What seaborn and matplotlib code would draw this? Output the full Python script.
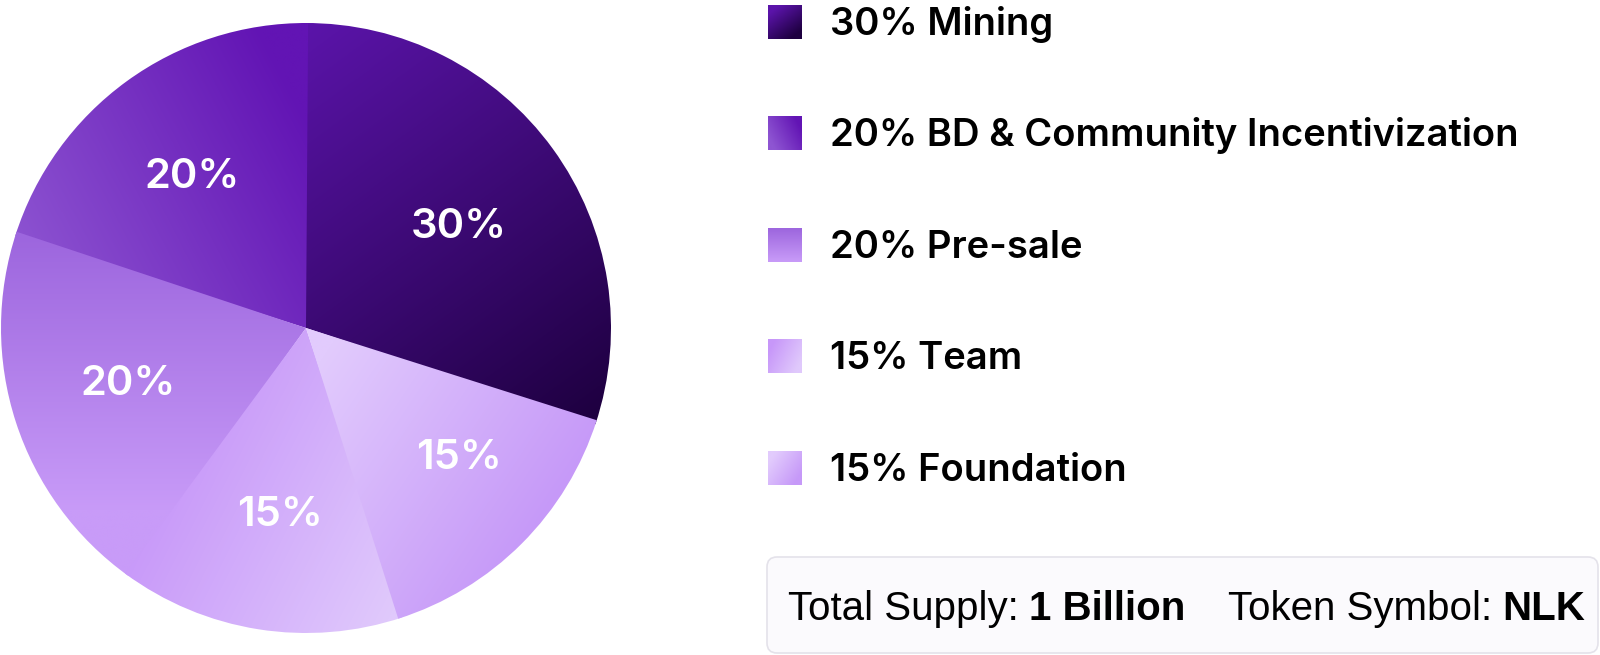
import numpy as np
import matplotlib
matplotlib.use("Agg")
import matplotlib.pyplot as plt
import seaborn as sns
from matplotlib.patches import FancyBboxPatch, Wedge

# token allocation
labels = ["Mining", "BD & Community Incentivization", "Pre-sale", "Team", "Foundation"]
shares = [30, 20, 20, 15, 15]
supply_label = "Total Supply:"
supply_value = "1 Billion"
symbol_label = "Token Symbol:"
symbol_value = "NLK"

# gradient per slice: colours and direction (pie coords)
grad_start = ["#5b14aa", "#6214b4", "#9d66de", "#c797f9", "#e2cbfd"]
grad_end = ["#1e0040", "#8e55d2", "#c89bf8", "#e0c9fc", "#c699f8"]
grad_from = [(0, 1), (0.0, 0.7), (0, 0.3), (-0.5, -0.5), (0.05, -0.1)]
grad_to = [(0.95, -0.3), (-0.95, 0.2), (0, -0.6), (0.3, -0.9), (0.8, -0.6)]
# small label nudges (pixels, x right / y up)
label_nudge = [(0, -10), (-3, -2), (2, 2), (4, 0), (19, 4)]

sns.set_theme(style="white")
plt.rcParams["font.family"] = ["Inter", "DejaVu Sans"]
plt.rcParams["text.color"] = "black"

W, H = 1600, 655
fig = plt.figure(figsize=(W / 100, H / 100), dpi=100)
fig.patch.set_facecolor("white")

# overlay axes in pixel coords for legend / info box
ax2 = fig.add_axes([0, 0, 1, 1])
ax2.axis("off")

ax = fig.add_axes([1 / W, 22 / H, 610 / W, 610 / H])


def grad_img(cmap, p0, p1, X, Y):
    d = np.array(p1, dtype=float) - np.array(p0, dtype=float)
    t = ((X - p0[0]) * d[0] + (Y - p0[1]) * d[1]) / (d @ d)
    return cmap(np.clip(t, 0, 1))


cmaps = [sns.blend_palette([a, b], as_cmap=True) for a, b in zip(grad_start, grad_end)]

wedges, _, autotexts = ax.pie(
    shares, startangle=-18, counterclock=True, radius=1,
    autopct="%.0f%%", pctdistance=0.62,
    wedgeprops=dict(linewidth=0),
    textprops=dict(color="white", fontsize=30, fontweight="semibold"),
)
ax.set_xlim(-1, 1)
ax.set_ylim(-1, 1)
ax.axis("off")

xs = np.linspace(-1, 1, 600)
X, Y = np.meshgrid(xs, xs)
for w, cm, p0, p1 in zip(wedges, cmaps, grad_from, grad_to):
    w.set_facecolor("none")
    clip = Wedge((0, 0), 1.0, w.theta1 - 0.4, w.theta2 + 0.4, transform=ax.transData)
    im = ax.imshow(grad_img(cm, p0, p1, X, Y), extent=[-1, 1, -1, 1], origin="lower",
                   interpolation="bilinear", zorder=1.5)
    im.set_clip_path(clip)
px = 2 / 610  # data units per pixel
for t, (nx, ny) in zip(autotexts, label_nudge):
    x, y = t.get_position()
    t.set_position((x + nx * px, y + ny * px))
    t.set_zorder(4)

# legend rows
sq = 34
row0, step = 22, 111.4
sx, sy = np.meshgrid(np.linspace(-1, 1, 40), np.linspace(1, -1, 40))
for i, (lab, val) in enumerate(zip(labels, shares)):
    cy = row0 + i * step
    p0, p1 = np.array(grad_from[i]), np.array(grad_to[i])
    d = (p1 - p0) / np.linalg.norm(p1 - p0)
    img = grad_img(cmaps[i], -d, d, sx, sy)
    ax2.imshow(img, extent=[768, 768 + sq, cy + sq / 2, cy - sq / 2], interpolation="bilinear")
    ax2.text(830, cy + 13, f"{val}% {lab}", fontsize=27.5, fontweight="semibold",
             color="black", ha="left", va="baseline")

# info box
box = FancyBboxPatch((767, 557), 831, 96, boxstyle="round,pad=0,rounding_size=10",
                     facecolor="#fbfafd", edgecolor="#e4e2ea", linewidth=1.2)
ax2.add_patch(box)
fam = ["Liberation Sans", "DejaVu Sans"]
fs = 29
t1 = ax2.text(788, 620, supply_label, fontsize=fs, family=fam, color="black", va="baseline")
t2 = ax2.annotate(supply_value, xy=(1, 0), xycoords=t1, xytext=(10, 0), textcoords="offset pixels",
                  fontsize=fs, family=fam, fontweight="bold", color="black", va="bottom", ha="left")
t3 = ax2.annotate(symbol_label, xy=(1, 0), xycoords=t2, xytext=(43, 0), textcoords="offset pixels",
                  fontsize=fs, family=fam, color="black", va="bottom", ha="left")
t4 = ax2.annotate(symbol_value, xy=(1, 0), xycoords=t3, xytext=(10, 0), textcoords="offset pixels",
                  fontsize=fs, family=fam, fontweight="bold", color="black", va="bottom", ha="left")

ax2.set_xlim(0, W)
ax2.set_ylim(H, 0)

fig.savefig("out.png", dpi=100)
